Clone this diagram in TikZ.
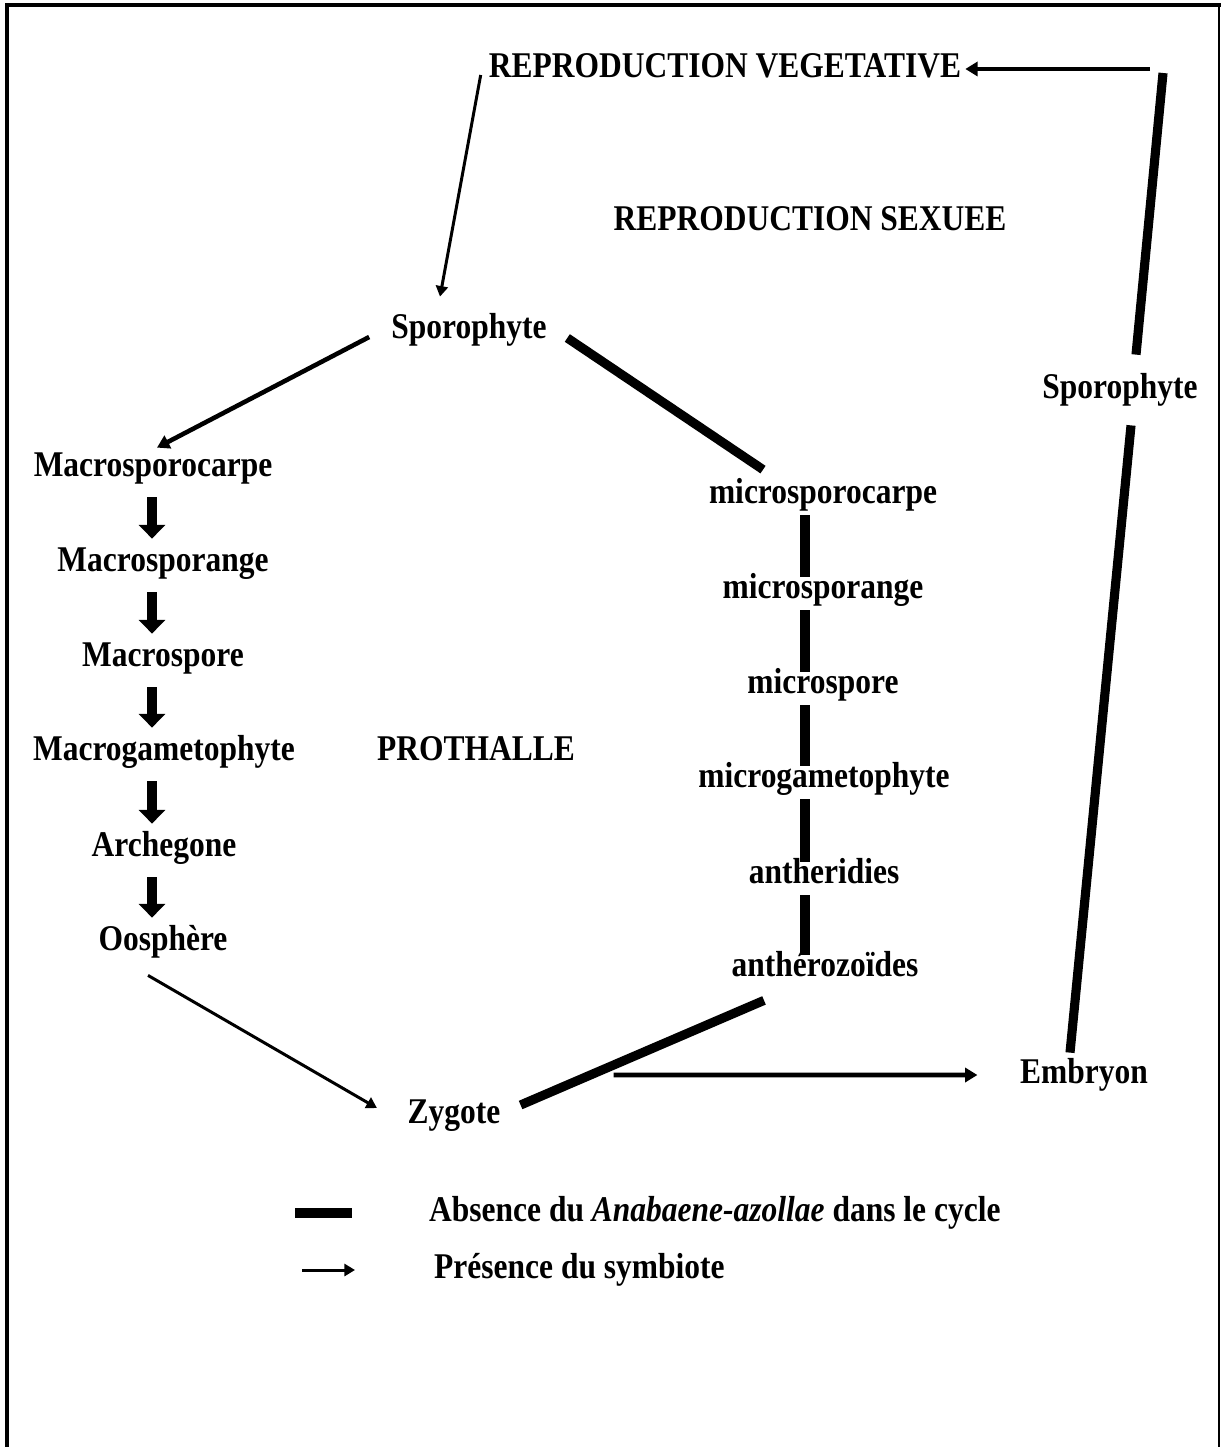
\documentclass[tikz,border=0pt]{standalone}
\usepackage{fontspec}
\setmainfont{Liberation Serif}[FakeStretch=0.87]
\usetikzlibrary{arrows.meta}

\begin{document}
\begin{tikzpicture}[
        every node/.style={font=\fontsize{10.3}{12}\selectfont\bfseries,
            inner sep=1pt, text height=7pt, text depth=2.2pt},
        thin link/.style={line width=0.85pt, -{Triangle[width=3.4pt,length=3pt]}},
        mid link/.style={line width=1.3pt, -{Triangle[width=4pt,length=3.5pt]}},
        thick link/.style={line width=2.6pt},
        block arrow/.style={line width=2.7pt, -{Triangle[width=7.4pt,length=3.9pt]},
            shorten <=0.9mm, shorten >=0.4mm},
        col link/.style={thick link, shorten >=-0.7mm}
    ]
                \useasboundingbox (0, 0) rectangle (12.21, -14.47);

                % frame, open at the bottom
                \draw[line width=1.2pt]
                (0.07, -14.47) -- (0.07, -0.05) -- (12.21, -0.05);
                \draw[line width=0.6pt]
                (12.19, -0.05) -- (12.19, -14.47);

                \node[] (veg) at (7.25, -0.69) {REPRODUCTION VEGETATIVE};
                \node[] (sex) at (8.10, -2.22) {REPRODUCTION SEXUEE};
                \node[] (spo) at (4.69, -3.30) {Sporophyte};
                \node[] (spoR) at (11.20, -3.90) {Sporophyte};

                \node[] (mcarpe) at (1.53, -4.68) {Macrosporocarpe};
                \node[] (mange) at (1.63, -5.63) {Macrosporange};
                \node[] (mspore) at (1.63, -6.58) {Macrospore};
                \node[] (mgam) at (1.64, -7.52) {Macrogametophyte};
                \node[] (arch) at (1.64, -8.48) {Archegone};
                \node[] (oos) at (1.63, -9.42) {Oosphère};
                \node[] (proth) at (4.76, -7.52) {PROTHALLE};

                \node[] (micarpe) at (8.23, -4.95) {microsporocarpe};
                \node[] (miange) at (8.23, -5.90) {microsporange};
                \node[] (mispore) at (8.23, -6.85) {microspore};
                \node[] (migam) at (8.24, -7.79) {microgametophyte};
                \node[] (anth) at (8.24, -8.75) {antheridies};
                \node[] (antz) at (8.25, -9.68) {anthérozoïdes};

                \node[] (zyg) at (4.54, -11.15) {Zygote};
                \node[] (emb) at (10.84, -10.75) {Embryon};

                \coordinate (lcol) at (1.52, 0);
                \coordinate (rcol) at (8.05, 0);
                \coordinate (vegturn) at (11.63, -0.73);
                \coordinate (vegend) at (11.50, -0.69);

                % vegetative loop
                \draw[thin link] ([xshift=-0.4mm, yshift=-0.6mm]veg.west) -- ([xshift=-2.9mm, yshift=1.3mm]spo.north);
                \draw[thick link] ([xshift=-1.4mm, yshift=0.2mm]emb.north) -- ([xshift=1.1mm, yshift=-1.5mm]spoR.south);
                \draw[thick link] ([xshift=1.6mm, yshift=1.5mm]spoR.north) -- (vegturn);
                \draw[mid link] (vegend) -- (veg.east);

                % sexual cycle
                \draw[mid link] ([xshift=-1.8mm, yshift=-0.7mm]spo.west) -- ([xshift=0.4mm]mcarpe.north);
                \draw[thick link] ([xshift=1.65mm, yshift=-0.8mm]spo.east) -- ([xshift=-6mm, yshift=0.5mm]micarpe.north);

                \foreach \a/\b in {mcarpe/mange, mange/mspore, mspore/mgam, mgam/arch, arch/oos}
                    \draw[block arrow] (lcol |- \a.south) -- (lcol |- \b.north);
                \foreach \a/\b in {micarpe/miange, miange/mispore, mispore/migam, migam/anth, anth/antz}
                    \draw[col link] (rcol |- \a.south) -- (rcol |- \b.north);

                \draw[thin link] ([xshift=-1.5mm, yshift=-1.3mm]oos.south) -- ([xshift=-2.65mm, yshift=0.7mm]zyg.west);
                \draw[thick link] ([xshift=-6.1mm, yshift=-1.2mm]antz.south) -- ([xshift=1.6mm, yshift=1.0mm]zyg.east);
                \draw[mid link] ([xshift=10.9mm, yshift=4.0mm]zyg.east) -- ([xshift=-3.85mm]emb.west);

                % legend
                \node[anchor=west] (absent) at (4.25, -12.13) {Absence du \textit{Anabaene-azollae} dans le cycle};
                \node[anchor=west] (present) at (4.30, -12.70) {Présence du symbiote};
                \draw[thick link] ([xshift=-13mm]absent.west) -- ([xshift=-7.3mm]absent.west);
                \draw[thin link] ([xshift=-12.8mm]present.west) -- ([xshift=-7.5mm]present.west);
\end{tikzpicture}
\end{document}
